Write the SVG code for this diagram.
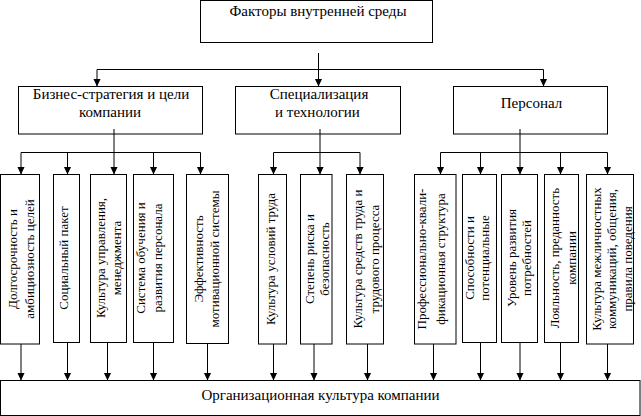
<svg xmlns="http://www.w3.org/2000/svg" width="641" height="416" viewBox="0 0 641 416">
<style>
.box{fill:#fff;stroke:#000;stroke-width:1}
.h{font-family:"Liberation Serif","Times New Roman",serif;font-size:15px;fill:#000;text-anchor:middle}
.v{font-family:"Liberation Serif","Times New Roman",serif;font-size:13px;fill:#000;text-anchor:middle}
.c{fill:none;stroke:#000;stroke-width:1}
.a{marker-end:url(#arr)}
</style>
<defs>
<marker id="arr" markerUnits="userSpaceOnUse" markerWidth="10" markerHeight="10" refX="8" refY="0" viewBox="0 -5 10 10" orient="auto">
<path d="M0,-3.8 L8,0 L0,3.8 z" fill="#000"/>
</marker>
</defs>
<rect width="641" height="416" fill="#fff"/>

<g id="top"><rect class="box" x="200.5" y="0.5" width="232" height="42"/><text class="h" x="318" y="16">Факторы внутренней среды</text></g>
<g id="biz"><rect class="box" x="18.5" y="86.5" width="184" height="47.5"/><text class="h" x="111" y="99">Бизнес-стратегия и цели</text><text class="h" x="110" y="117">компании</text></g>
<g id="spec"><rect class="box" x="235.5" y="86.5" width="165" height="47.5"/><text class="h" x="319" y="99">Специализация</text><text class="h" x="317.5" y="117">и технологии</text></g>
<g id="pers"><rect class="box" x="453.5" y="86.5" width="154" height="47.5"/><text class="h" x="531.5" y="108">Персонал</text></g>

<g id="b1"><rect class="box" x="0.5" y="174.5" width="39" height="169.5"/><g transform="translate(20,259) rotate(-90)"><text class="v" y="-3">Долгосрочность и</text><text class="v" y="14">амбициозность целей</text></g></g>
<g id="b2"><rect class="box" x="53.5" y="174.5" width="26" height="168"/><g transform="translate(66.5,258) rotate(-90)"><text class="v" y="1.5">Социальный пакет</text></g></g>
<g id="b3"><rect class="box" x="90.5" y="174.5" width="36" height="168"/><g transform="translate(108.5,258) rotate(-90)"><text class="v" y="-3.5">Культура управления,</text><text class="v" y="12.5">менеджмента</text></g></g>
<g id="b4"><rect class="box" x="133.5" y="174.5" width="40" height="168"/><g transform="translate(153.5,258) rotate(-90)"><text class="v" y="-8.5">Система обучения и</text><text class="v" y="8.5">развития персонала</text></g></g>
<g id="b5"><rect class="box" x="186.5" y="174.5" width="42" height="169"/><g transform="translate(207.5,259) rotate(-90)"><text class="v" y="-4.5">Эффективность</text><text class="v" y="11.5">мотивационной системы</text></g></g>
<g id="b6"><rect class="box" x="258.5" y="174.5" width="28" height="169.5"/><g transform="translate(272.5,259) rotate(-90)"><text class="v" y="2.5">Культура условий труда</text></g></g>
<g id="b7"><rect class="box" x="300.5" y="174.5" width="31.5" height="169.5"/><g transform="translate(316,259) rotate(-90)"><text class="v" y="-2">Степень риска и</text><text class="v" y="13">безопасность</text></g></g>
<g id="b8"><rect class="box" x="346.5" y="174.5" width="37" height="169.5"/><g transform="translate(365,259) rotate(-90)"><text class="v" y="-3.5">Культура средств труда и</text><text class="v" y="14">трудового процесса</text></g></g>
<g id="b9"><rect class="box" x="414.5" y="174.5" width="41.5" height="169.5"/><g transform="translate(435,259) rotate(-90)"><text class="v" y="-9.5">Профессионально-квали-</text><text class="v" y="10">фикационная структура</text></g></g>
<g id="b10"><rect class="box" x="462.5" y="174.5" width="34" height="168"/><g transform="translate(479.5,258) rotate(-90)"><text class="v" y="-5.5">Способности и</text><text class="v" y="9.5">потенциальные</text></g></g>
<g id="b11"><rect class="box" x="501.5" y="174.5" width="36" height="168"/><g transform="translate(519.5,258) rotate(-90)"><text class="v" y="-4">Уровень развития</text><text class="v" y="11">потребностей</text></g></g>
<g id="b12"><rect class="box" x="544.5" y="174.5" width="34" height="168"/><g transform="translate(561.5,258) rotate(-90)"><text class="v" y="-2.5">Лояльность, преданность</text><text class="v" y="14.5">компании</text></g></g>
<g id="b13"><rect class="box" x="586.5" y="174.5" width="47" height="169.5"/><g transform="translate(610,259) rotate(-90)"><text class="v" y="-9">Культура межличностных</text><text class="v" y="5.5">коммуникаций, общения,</text><text class="v" y="21.5">правила поведения</text></g></g>

<g id="bottom"><rect class="box" x="0.5" y="380.5" width="639.5" height="35"/><text class="h" x="320.5" y="400">Организационная культура компании</text></g>

<g id="connectors">
<path class="c" d="M97,69.5 H543.5"/>
<path class="c a" d="M318.5,53 V86.5"/>
<path class="c a" d="M97,69.5 V86.5"/>
<path class="c a" d="M543.5,69.5 V86.5"/>

<path class="c" d="M114,129 V152.5 M21,152.5 H200.5"/>
<path class="c a" d="M21,152.5 V174.5"/>
<path class="c a" d="M67.5,152.5 V174.5"/>
<path class="c a" d="M114,152.5 V174.5"/>
<path class="c a" d="M153.5,152.5 V174.5"/>
<path class="c a" d="M200.5,152.5 V174.5"/>

<path class="c" d="M320,129 V152.5 M273.5,152.5 H360"/>
<path class="c a" d="M273.5,152.5 V174.5"/>
<path class="c a" d="M320,152.5 V174.5"/>
<path class="c a" d="M360,152.5 V174.5"/>

<path class="c" d="M520,129 V152.5 M440.5,152.5 H607.5"/>
<path class="c a" d="M440.5,152.5 V174.5"/>
<path class="c a" d="M480.5,152.5 V174.5"/>
<path class="c a" d="M520,152.5 V174.5"/>
<path class="c a" d="M560.5,152.5 V174.5"/>
<path class="c a" d="M607.5,152.5 V174.5"/>

<path class="c a" d="M21,344 V380.5"/>
<path class="c a" d="M67.5,342.5 V380.5"/>
<path class="c a" d="M107.5,342.5 V380.5"/>
<path class="c a" d="M153.5,342.5 V380.5"/>
<path class="c a" d="M207.5,343.5 V380.5"/>
<path class="c a" d="M273.5,344 V380.5"/>
<path class="c a" d="M314,344 V380.5"/>
<path class="c a" d="M367.5,344 V380.5"/>
<path class="c a" d="M433.5,344 V380.5"/>
<path class="c a" d="M480.5,342.5 V380.5"/>
<path class="c a" d="M520,342.5 V380.5"/>
<path class="c a" d="M560.5,342.5 V380.5"/>
<path class="c a" d="M607.5,344 V380.5"/>
</g>
</svg>
